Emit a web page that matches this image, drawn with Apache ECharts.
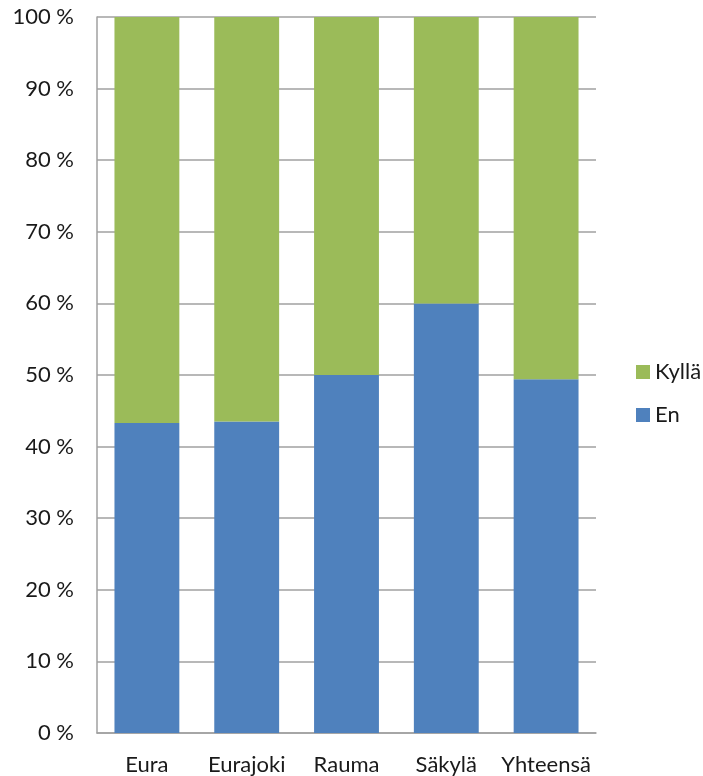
<!DOCTYPE html>
<html><head><meta charset="utf-8">
<script src="https://cdn.jsdelivr.net/npm/echarts@6/dist/echarts.min.js"></script>
<style>html,body{margin:0;padding:0;background:#fff}#c{width:703px;height:776px}</style>
</head><body><div id="c"></div>
<script>
const categories = ['Eura', 'Eurajoki', 'Rauma', 'Säkylä', 'Yhteensä'];
const enValues = [43.3, 43.5, 50.0, 60.0, 49.4];
const kyllaValues = [56.7, 56.5, 50.0, 40.0, 50.6];

const FONT = 'Lato, Open Sans, Liberation Sans, sans-serif';
const chart = echarts.init(document.getElementById('c'));
chart.setOption({
  animation: false,
  textStyle: { fontFamily: FONT },
  grid: { left: 97, right: 107, top: 17, bottom: 43, containLabel: false },
  legend: {
    orient: 'vertical', left: 631, top: 356, itemWidth: 14, itemHeight: 14, itemGap: 21,
    icon: 'rect', data: ['Kyllä', 'En'],
    textStyle: { fontSize: 22, color: '#1a1a1a', fontFamily: FONT }
  },
  xAxis: {
    type: 'category', data: categories,
    axisLine: { lineStyle: { color: '#a0a0a0', width: 1.5 } },
    axisTick: { show: false },
    axisLabel: { fontSize: 22, color: '#1a1a1a', margin: 21, interval: 0 }
  },
  yAxis: {
    type: 'value', min: 0, max: 100, interval: 10,
    axisLine: { show: true, lineStyle: { color: '#a0a0a0', width: 1.5 } },
    axisTick: { show: false },
    splitLine: { lineStyle: { color: '#a0a0a0', width: 1.5 } },
    axisLabel: { fontSize: 22, color: '#1a1a1a', margin: 23, formatter: v => v + ' %' }
  },
  series: [
    { name: 'En', type: 'bar', stack: 'a', data: enValues, barWidth: '65%',
      itemStyle: { color: '#4F81BD' } },
    { name: 'Kyllä', type: 'bar', stack: 'a', data: kyllaValues, barWidth: '65%',
      itemStyle: { color: '#9BBB59' } }
  ]
});
</script></body></html>
